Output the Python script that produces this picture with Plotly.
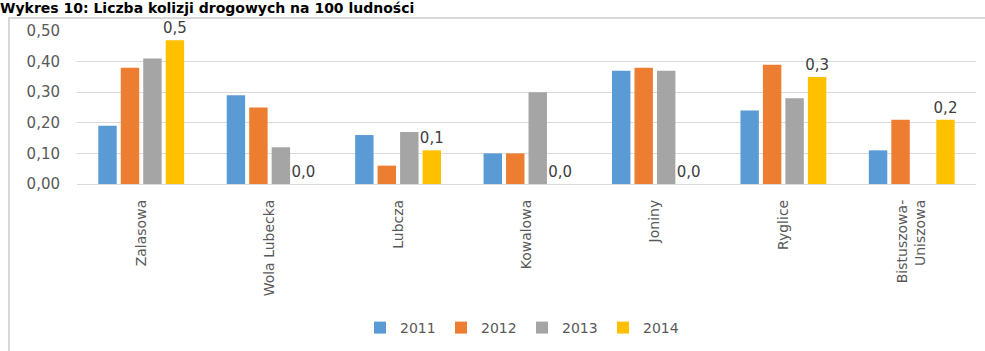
import plotly.graph_objects as go

# Road collisions per 100 inhabitants, by locality and year
localities = ["Zalasowa", "Wola Lubecka", "Lubcza", "Kowalowa", "Joniny",
              "Ryglice", "Bistuszowa-<br>Uniszowa"]
years = ["2011", "2012", "2013", "2014"]
v2011 = [0.19, 0.29, 0.16, 0.10, 0.37, 0.24, 0.11]
v2012 = [0.38, 0.25, 0.06, 0.10, 0.38, 0.39, 0.21]
v2013 = [0.41, 0.12, 0.17, 0.30, 0.37, 0.28, None]
v2014 = [0.47, 0.00, 0.11, 0.00, 0.00, 0.35, 0.21]
y_ticks = [0.0, 0.1, 0.2, 0.3, 0.4, 0.5]

series = [v2011, v2012, v2013, v2014]
colors = ["#5B9BD5", "#ED7D31", "#A5A5A5", "#FFC000"]

W, H = 985, 351
ML, MR, MT, MB = 77, 9, 31, 166
PW, PH = W - ML - MR, H - MT - MB
FONT = "DejaVu Sans"

fig = go.Figure()
for name, vals, col in zip(years, series, colors):
    labelled = name == "2014"
    fig.add_trace(go.Bar(
        name=name, x=localities, y=vals, marker_color=col,
        marker_line_width=0,
        texttemplate="%{y:.1f}" if labelled else None,
        textposition="outside" if labelled else "none",
        textfont=dict(family=FONT, size=15, color="#404040"),
        constraintext="none",
        cliponaxis=False,
    ))

def px_y(py):
    return (H - MB - py) / PH

def px_x(px):
    return (px - ML) / PW

fig.update_layout(
    width=W, height=H,
    margin=dict(l=ML, r=MR, t=MT, b=MB, pad=0),
    paper_bgcolor="white", plot_bgcolor="white",
    barmode="group", bargap=0.30, bargroupgap=0.18,
    separators=", ",
    font=dict(family=FONT, color="#595959"),
    showlegend=True,
    legend=dict(orientation="h", x=px_x(360), xanchor="left",
                y=px_y(328), yanchor="middle",
                font=dict(family=FONT, size=14, color="#595959"),
                entrywidth=36, entrywidthmode="pixels",
                itemwidth=30, traceorder="normal", bgcolor="rgba(0,0,0,0)"),
    xaxis=dict(tickangle=-90, tickfont=dict(family=FONT, size=14, color="#595959"),
               showgrid=False, ticks="", showline=False,
               ticklabelstandoff=12),
    yaxis=dict(range=[0, 0.5], tickvals=y_ticks, tickformat=".2f",
               tickfont=dict(family=FONT, size=15, color="#595959"),
               showgrid=True, gridcolor="#D9D9D9", gridwidth=1,
               zeroline=True, zerolinecolor="#D9D9D9", zerolinewidth=1,
               showline=False, ticks="", ticklabelstandoff=16),
    shapes=[dict(type="rect", xref="paper", yref="paper",
                 x0=px_x(9), x1=1.2, y0=-2.0, y1=px_y(18),
                 line=dict(color="#D9D9D9", width=2),
                 fillcolor="rgba(0,0,0,0)", layer="below")],
    annotations=[dict(text="Wykres 10: Liczba kolizji drogowych na 100 ludności",
                      xref="paper", yref="paper", x=px_x(0), y=px_y(0),
                      xanchor="left", yanchor="top", showarrow=False,
                      borderpad=0, borderwidth=0,
                      font=dict(family=FONT, size=14, color="black",
                                weight="bold"))],
)

fig.write_html("out.html")
